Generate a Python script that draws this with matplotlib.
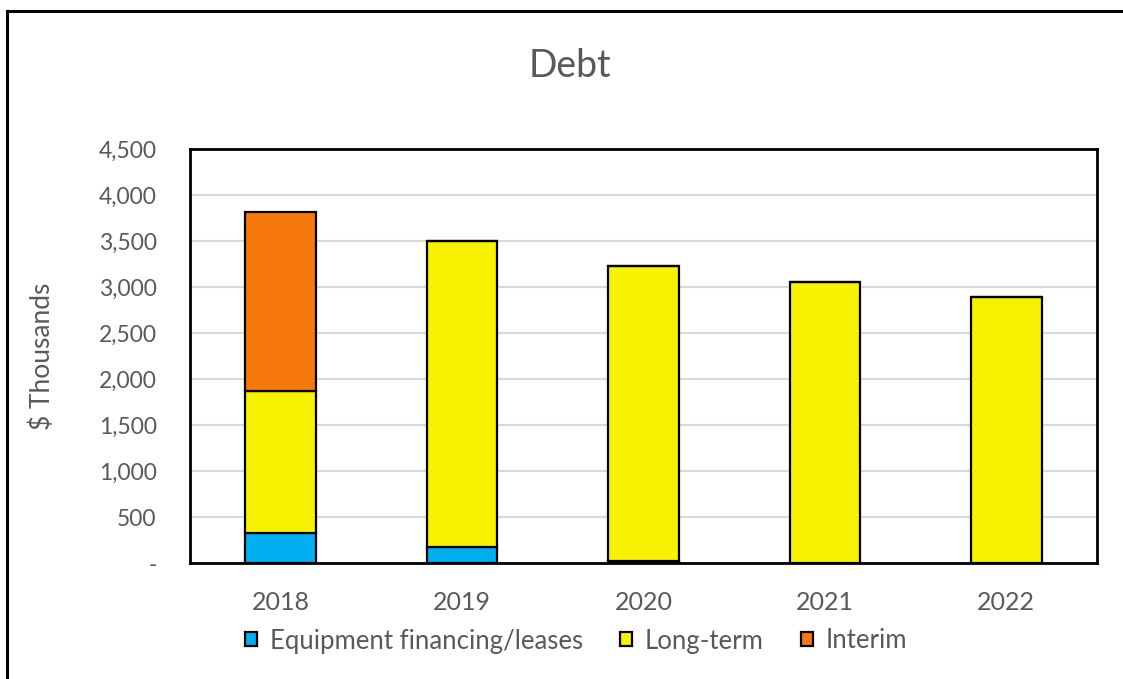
import matplotlib
matplotlib.use("Agg")
import matplotlib.pyplot as plt
import numpy as np
from matplotlib.lines import Line2D
from matplotlib.ticker import FuncFormatter

years = ["2018", "2019", "2020", "2021", "2022"]
equipment = [326, 174, 22, 0, 0]
long_term = [1544, 3326, 3206, 3054, 2891]
interim = [1945, 0, 0, 0, 0]
series_names = ["Equipment financing/leases", "Long-term", "Interim"]
colors = ["#00B0F0", "#F7F200", "#F7780A"]
y_ticks = [0, 500, 1000, 1500, 2000, 2500, 3000, 3500, 4000, 4500]

plt.rcParams['font.family'] = ['Lato', 'DejaVu Sans']
grey = "#595959"

fig = plt.figure(figsize=(11.23, 6.79), dpi=100)
ax = fig.add_axes([190/1123, 1-563/679, (1097-190)/1123, (563-149)/679])

x = np.arange(len(years))
w = 0.39
bottom = np.zeros(len(years))
for vals, name, c in zip([equipment, long_term, interim], series_names, colors):
    v = np.array(vals, dtype=float)
    ax.bar(x, v, w, bottom=bottom, color=c, edgecolor="black", linewidth=1.6, label=name, zorder=3)
    bottom += v

ax.set_xlim(-0.5, len(years) - 0.5)
ax.set_ylim(0, 4500)
ax.set_yticks(y_ticks)
ax.yaxis.set_major_formatter(FuncFormatter(lambda v, p: "-" if v == 0 else f"{int(v):,}"))
ax.set_xticks(x)
ax.set_xticklabels(years)
ax.tick_params(axis="y", length=0, labelsize=16.5, colors=grey, pad=24)
ax.tick_params(axis="x", length=0, labelsize=18, colors=grey, pad=20)
for lab in ax.get_yticklabels():
    lab.set_horizontalalignment("right")
ax.grid(axis="y", color="#D9D9D9", linewidth=1.5, zorder=0)
ax.set_axisbelow(True)
for s in ax.spines.values():
    s.set_color("black")
    s.set_linewidth(2)

ax.set_ylabel("$ Thousands", fontsize=19, color=grey)
ax.yaxis.set_label_coords(-135/907, 0.5)

fig.text(570/1123, 1-66/679, "Debt", ha="center", va="center", fontsize=27, color=grey)

handles, labels = ax.get_legend_handles_labels()
leg = fig.legend(handles, labels, loc="center", bbox_to_anchor=(576/1123, 1-641/679), ncol=3,
                 frameon=False, fontsize=18.5, handlelength=0.47, handleheight=0.47,
                 handletextpad=0.5, columnspacing=1.45)
for t in leg.get_texts():
    t.set_color(grey)

# outer frame (left and top edges)
fig.add_artist(Line2D([7/1123, 7/1123], [0, 1-11/679], transform=fig.transFigure, color="black", linewidth=2.2))
fig.add_artist(Line2D([7/1123, 1], [1-11/679, 1-11/679], transform=fig.transFigure, color="black", linewidth=2.2))

fig.savefig("out.png", dpi=100)
